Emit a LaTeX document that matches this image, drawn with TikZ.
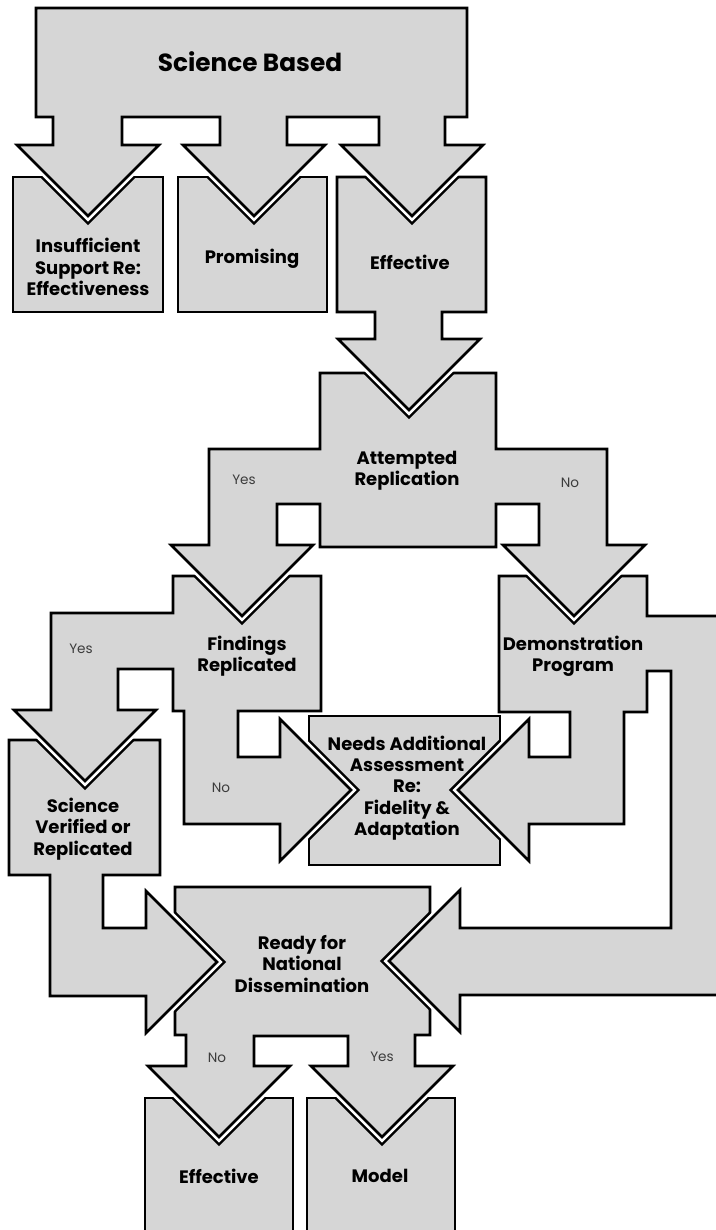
\documentclass[tikz,border=0pt]{standalone}
\usepackage{fontspec}
\setmainfont{Poppins}
\usepackage{xcolor}
\definecolor{boxgray}{RGB}{214,214,214}
\definecolor{anscol}{RGB}{60,60,60}

% outlines of the shapes, in pixels of the reference
\def\pSB{(36,8) -- (467,8) -- (467,117) -- (445,117) -- (445,145) -- (483,145) -- (412,216) -- (341,145) -- (379,145) -- (379,117) -- (287,117) -- (287,145) -- (325,145) -- (254,216) -- (183,145) -- (220,145) -- (220,117) -- (122,117) -- (122,145) -- (159,145) -- (88,216) -- (17,145) -- (53,145) -- (53,117) -- (36,117) -- cycle}
\def\pInsuf{(13,177) rectangle (163,312)}
\def\pProm{(178,177) rectangle (327,312)}
\def\pEff{(337,177) -- (486,177) -- (486,312) -- (442,312) -- (442,339) -- (480,339) -- (409,410) -- (338,339) -- (375,339) -- (375,312) -- (337,312) -- cycle}
\def\pAttempt{(320,373) -- (496,373) -- (496,449) -- (607,449) -- (607,545) -- (645,545) -- (574,616) -- (503,545) -- (539,545) -- (539,504) -- (496,504) -- (496,547) -- (320,547) -- (320,504) -- (277,504) -- (277,545) -- (313,545) -- (242,616) -- (171,545) -- (209,545) -- (209,449) -- (320,449) -- cycle}
\def\pFind{(173,576) -- (321,576) -- (321,711) -- (238,711) -- (238,757) -- (280,757) -- (280,719) -- (351,790) -- (280,861) -- (280,824) -- (184,824) -- (184,711) -- (173,711) -- (173,669) -- (118,669) -- (118,710) -- (156,710) -- (85,781) -- (14,710) -- (51,710) -- (51,613) -- (173,613) -- cycle}
\def\pDemo{(499,576) -- (647,576) -- (647,616) -- (725,616) -- (725,995) -- (460,995) -- (460,1032) -- (389,961) -- (460,890) -- (460,928) -- (671,928) -- (671,671) -- (647,671) -- (647,712) -- (624,712) -- (624,824) -- (529,824) -- (529,861) -- (458,790) -- (529,719) -- (529,757) -- (570,757) -- (570,712) -- (499,712) -- cycle}
\def\pNeeds{(309,716) rectangle (500,865)}
\def\pVerif{(9,740) -- (160,740) -- (160,875) -- (103,875) -- (103,928) -- (146,928) -- (146,891) -- (217,962) -- (146,1033) -- (146,996) -- (50,996) -- (50,875) -- (9,875) -- cycle}
\def\pReady{(175,887) -- (430,887) -- (430,1035) -- (415,1035) -- (415,1066) -- (453,1066) -- (382,1137) -- (311,1066) -- (348,1066) -- (348,1036) -- (254,1036) -- (254,1066) -- (290,1066) -- (219,1137) -- (148,1066) -- (186,1066) -- (186,1035) -- (175,1035) -- cycle}
\def\pEffB{(145,1098) rectangle (293,1245)}
\def\pModel{(307,1098) rectangle (455,1245)}

% white gap round an arrow head where it enters a box
\newcommand{\headgap}[2]{%
  \begin{scope}\clip #1; \draw[gapout] #2; \end{scope}
  \draw[gapin] #2;}

\begin{document}
\begin{tikzpicture}[x=0.5pt, y=-0.5pt,
    block/.style={fill=boxgray, draw=black, line width=1.3pt, line join=miter},
    gapout/.style={draw=black, line width=6.5pt, line join=miter},
    gapin/.style={draw=white, line width=3.9pt, line join=miter},
    lbl/.style={font=\bfseries\fontsize{9}{10.7}\selectfont, align=center, inner sep=0pt},
    title/.style={font=\bfseries\fontsize{12.4}{15}\selectfont, inner sep=0pt},
    ans/.style={font=\fontsize{6.8}{8}\selectfont, text=anscol, inner sep=0pt}]
  \useasboundingbox (0,0) rectangle (716,1230);

  % bottom row
  \path[block] \pEffB;
  \path[block] \pModel;
  \headgap{\pEffB}{(148,1066) -- (219,1137) -- (290,1066)}
  \headgap{\pModel}{(311,1066) -- (382,1137) -- (453,1066)}
  \path[block] \pReady;

  % into ready
  \headgap{\pReady}{(146,891) -- (217,962) -- (146,1033)}
  \headgap{\pReady}{(460,890) -- (389,961) -- (460,1032)}
  \path[block] \pVerif;
  \path[block] \pNeeds;

  % demonstration and findings
  \headgap{\pNeeds}{(529,719) -- (458,790) -- (529,861)}
  \headgap{\pNeeds}{(280,719) -- (351,790) -- (280,861)}
  \path[block] \pDemo;
  \headgap{\pVerif}{(14,710) -- (85,781) -- (156,710)}
  \path[block] \pFind;

  % attempted replication
  \headgap{\pFind}{(171,545) -- (242,616) -- (313,545)}
  \headgap{\pDemo}{(503,545) -- (574,616) -- (645,545)}
  \path[block] \pAttempt;
  \headgap{\pAttempt}{(338,339) -- (409,410) -- (480,339)}
  \path[block] \pEff;
  \path[block] \pInsuf;
  \path[block] \pProm;

  % top
  \headgap{\pInsuf}{(17,145) -- (88,216) -- (159,145)}
  \headgap{\pProm}{(183,145) -- (254,216) -- (325,145)}
  \headgap{\pEff}{(341,145) -- (412,216) -- (483,145)}
  \path[block] \pSB;

  \node[title] (sb) at (250,62) {Science Based};
  \node[lbl] (insuf) at (88,267) {Insufficient\\Support Re:\\Effectiveness};
  \node[lbl] (prom) at (252,259) {Promising};
  \node[lbl] (eff) at (410,262) {Effective};
  \node[lbl] (attempt) at (407,471) {Attempted\\Replication};
  \node[ans] (ayes) at (244,480) {Yes};
  \node[ans] (ano) at (570,483) {No};
  \node[lbl] (find) at (247,656) {Findings\\Replicated};
  \node[lbl] (demo) at (573,656) {Demonstration\\Program};
  \node[ans] (fyes) at (81,649) {Yes};
  \node[ans] (fno) at (221,788) {No};
  \node[lbl] (needs) at (407,788) {Needs Additional\\Assessment\\Re:\\Fidelity \&\\Adaptation};
  \node[lbl] (verif) at (83,829) {Science\\Verified or\\Replicated};
  \node[lbl] (ready) at (302,964) {Ready for\\National\\Dissemination};
  \node[ans] (rno) at (217,1058) {No};
  \node[ans] (ryes) at (382,1057) {Yes};
  \node[lbl] (effb) at (219,1176) {Effective};
  \node[lbl] (model) at (380,1176) {Model};
\end{tikzpicture}
\end{document}
